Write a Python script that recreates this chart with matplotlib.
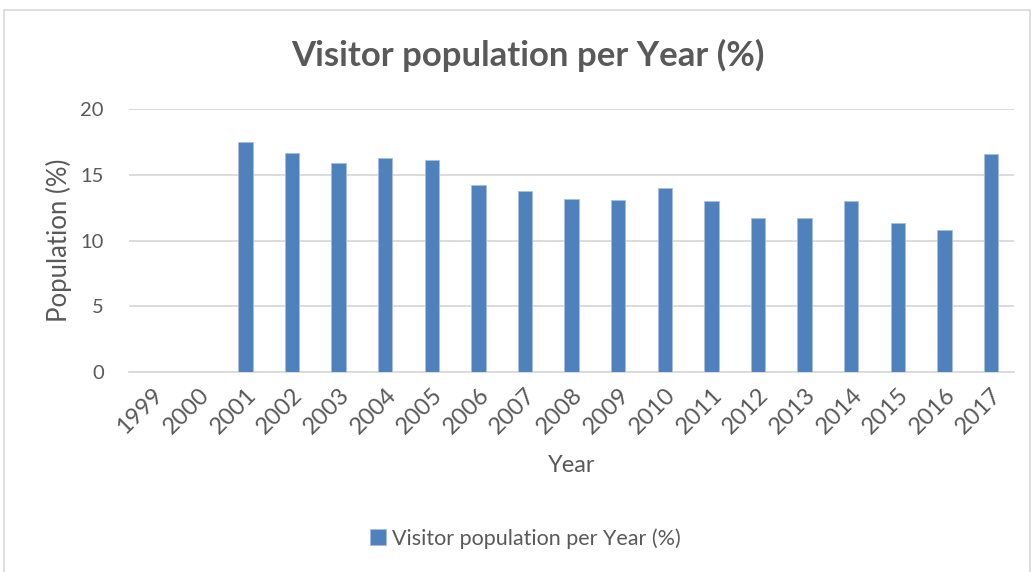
import matplotlib.pyplot as plt
from matplotlib.patches import Rectangle

# visitor share per year, no figures recorded for 1999 and 2000
years = [str(y) for y in range(1999, 2018)]
population = [0, 0, 17.5, 16.7, 15.9, 16.3, 16.1, 14.2, 13.8, 13.2,
              13.1, 14.0, 13.0, 11.7, 11.7, 13.0, 11.3, 10.8, 16.6]
y_ticks = [0, 5, 10, 15, 20]

text_grey = '#595959'
grid_grey = '#d9d9d9'
bar_blue = '#4f81bd'

plt.rcParams['font.family'] = ['Lato', 'DejaVu Sans']

fig = plt.figure(figsize=(10.36, 5.72), dpi=100)
ax = fig.add_axes([0.1245, 0.350, 0.8545, 0.459])

x = range(len(years))
ax.bar(x, population, width=0.31, color=bar_blue, edgecolor='#a7bfdf',
       linewidth=0.6, zorder=3, label='Visitor population per Year (%)')

ax.set_xlim(-0.5, len(years) - 0.5)
ax.set_ylim(0, 20)
ax.set_yticks(y_ticks)
ax.set_xticks(list(x))
ax.set_xticklabels(years, rotation=45, ha='right', rotation_mode='anchor')
ax.tick_params(axis='both', length=0, colors=text_grey)
ax.tick_params(axis='x', pad=9, labelsize=17)
ax.tick_params(axis='y', pad=18, labelsize=14.5)

ax.grid(axis='y', color=grid_grey, linewidth=1.3, zorder=0)
for side in ['top', 'right', 'left']:
    ax.spines[side].set_visible(False)
ax.spines['bottom'].set_color(grid_grey)
ax.spines['bottom'].set_linewidth(1.3)

ax.set_ylabel('Population (%)', fontsize=18.5, color=text_grey, labelpad=6)
ax.set_xlabel('Year', fontsize=17, color=text_grey, labelpad=12)

fig.text(0.510, 0.903, 'Visitor population per Year (%)', ha='center',
         va='center', fontsize=25, fontweight='bold', color=text_grey)

fig.legend(loc='center', bbox_to_anchor=(0.507, 0.059), frameon=False,
           fontsize=15.5, labelcolor=text_grey, handlelength=0.75,
           handleheight=0.75, handletextpad=0.3)

# light chart-area border
fig.patches.append(Rectangle((0.004, -0.01), 0.99, 0.992,
                             transform=fig.transFigure, fill=False,
                             edgecolor=grid_grey, linewidth=1.2))

fig.savefig('out.png', dpi=100, facecolor='white')
